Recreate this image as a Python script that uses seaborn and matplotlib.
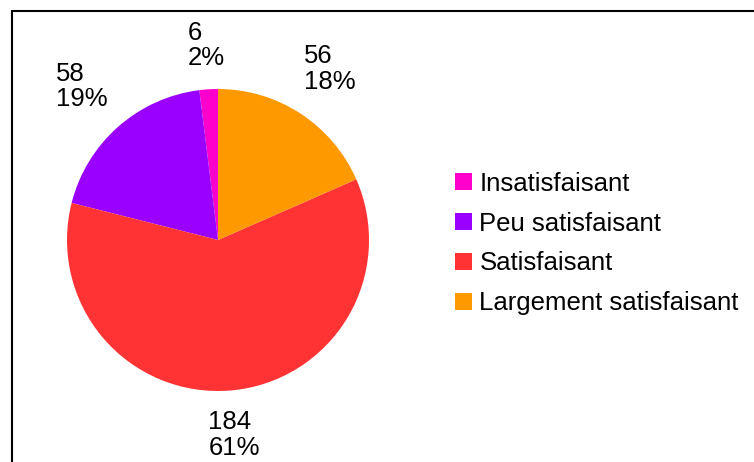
import numpy as np
import matplotlib
matplotlib.use('Agg')
import matplotlib.pyplot as plt
import matplotlib.patches as mpatches
import seaborn as sns

# data
categories = ['Insatisfaisant', 'Peu satisfaisant', 'Satisfaisant', 'Largement satisfaisant']
counts = [6, 58, 184, 56]
percents = [2, 19, 61, 18]
colors = ['#ff00cc', '#9900ff', '#ff3333', '#ff9900']

sns.set_style('white')
plt.rcParams['font.family'] = ['Liberation Sans', 'DejaVu Sans']
plt.rcParams['text.color'] = 'black'

fig = plt.figure(figsize=(7.54, 4.62), dpi=100)
ax = fig.add_axes([67 / 754, (462 - 240 - 151) / 462, 302 / 754, 302 / 462])

labels = [f'{c}\n{p}%' for c, p in zip(counts, percents)]
wedges, texts = ax.pie(counts, colors=colors, startangle=90, counterclock=True,
                       labels=labels, labeldistance=1.3, radius=1,
                       wedgeprops=dict(linewidth=0),
                       textprops=dict(fontsize=18.5, color='black', linespacing=1.07))
ax.set_xlim(-1, 1)
ax.set_ylim(-1, 1)
ax.set_aspect('equal')

# place each label outside its wedge, like the office chart does
hw, hh = 25 / 151, 20 / 151
for w, t in zip(wedges, texts):
    ang = np.deg2rad((w.theta1 + w.theta2) / 2)
    c, s = np.cos(ang), np.sin(ang)
    d = 1.15 + abs(c) * hw + abs(s) * hh
    t.set_position((d * c, d * s))
    t.set_ha('center')
    t.set_va('center')
    t.set_multialignment('left')

leg = fig.legend(wedges, categories, loc='center left',
                 bbox_to_anchor=(455 / 754, 1 - 243.5 / 462), frameon=False,
                 fontsize=18.5, handlelength=0.65, handleheight=0.65,
                 handletextpad=0.3, labelspacing=0.62, borderpad=0, borderaxespad=0)
for t in leg.get_texts():
    t.set_color('black')

# chart border (cut off at right and bottom)
fig.patches.append(mpatches.Rectangle((12 / 754, -0.1), 1.2, (462 - 11) / 462 + 0.1,
                                      transform=fig.transFigure, fill=False,
                                      edgecolor='black', linewidth=1.5))

fig.savefig('out.png', dpi=100)
